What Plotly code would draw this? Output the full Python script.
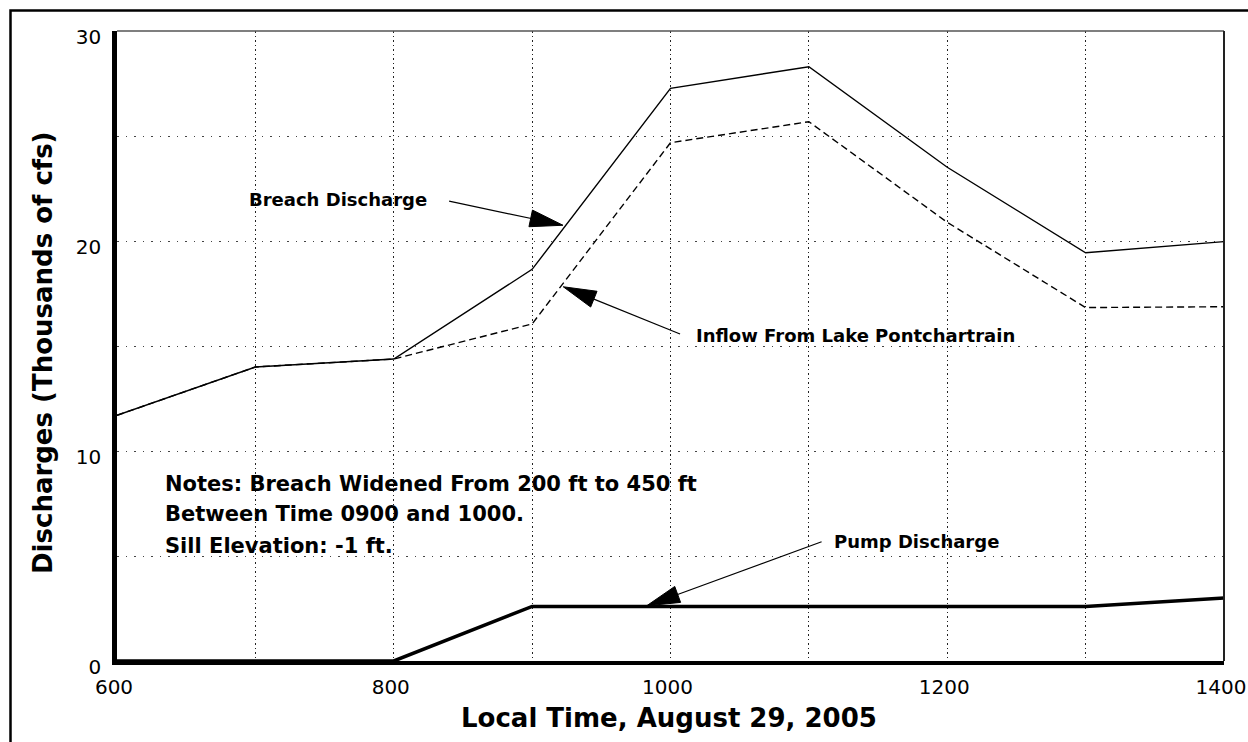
import math
import plotly.graph_objects as go

# Hourly timeline (local time, 24h clock as numbers)
time = [600, 700, 800, 900, 1000, 1100, 1200, 1300, 1400]
# Discharges in thousands of cfs
breach_discharge = [11.7, 14.0, 14.38, 18.65, 27.27, 28.3, 23.51, 19.44, 19.97]
lake_inflow = [11.7, 14.0, 14.38, 16.05, 24.68, 25.68, 20.89, 16.83, 16.87]
pump_discharge = [0.0, 0.0, 0.0, 2.6, 2.6, 2.6, 2.6, 2.6, 3.0]

x_ticks = [600, 800, 1000, 1200, 1400]
y_ticks = [0, 10, 20, 30]

W, H = 1248, 742
ML, MR, MT, MB = 117, 24, 31, 81
X0, X1 = 600, 1400
Y0, Y1 = 0, 30
PX_X = (W - ML - MR) / (X1 - X0)
PX_Y = (H - MT - MB) / (Y1 - Y0)

FONT = "DejaVu Sans"


def px_to_paper(px, py):
    return (px - ML) / (W - ML - MR), (H - MB - py) / (H - MT - MB)


fig = go.Figure()

fig.add_trace(go.Scatter(x=time, y=lake_inflow, mode="lines",
                         line=dict(color="black", width=1.4, dash="7px,4px"),
                         name="Inflow From Lake Pontchartrain", hoverinfo="skip"))
fig.add_trace(go.Scatter(x=time, y=breach_discharge, mode="lines",
                         line=dict(color="black", width=1.4),
                         name="Breach Discharge", hoverinfo="skip"))
fig.add_trace(go.Scatter(x=time, y=pump_discharge, mode="lines",
                         line=dict(color="black", width=3.5),
                         name="Pump Discharge", hoverinfo="skip"))

shapes = []
annotations = []


def pointer(tip, tail, head_len=33, head_w=17):
    """Thin shaft from tail to tip with a filled triangular head."""
    tx, ty = tip
    ux = (tail[0] - tx) * PX_X
    uy = (tail[1] - ty) * PX_Y
    n = math.hypot(ux, uy)
    ux, uy = ux / n, uy / n
    bx, by = ux * head_len, uy * head_len
    qx, qy = -uy * head_w / 2, ux * head_w / 2
    pts = [(0, 0), (bx + qx, by + qy), (bx - qx, by - qy)]
    path = "M " + " L ".join(f"{tx + a / PX_X},{ty + b / PX_Y}" for a, b in pts) + " Z"
    shapes.append(dict(type="path", xref="x", yref="y", path=path,
                       fillcolor="black", line=dict(color="black", width=1)))
    shapes.append(dict(type="line", xref="x", yref="y",
                       x0=tx + bx * 0.8 / PX_X, y0=ty + by * 0.8 / PX_Y,
                       x1=tail[0], y1=tail[1],
                       line=dict(color="black", width=1.2)))


pointer((922.3, 20.75), (840.0, 21.9))
pointer((922.5, 17.82), (1006.9, 15.57))
pointer((982.8, 2.63), (1109.2, 5.68))


def label(x, y, text, size=18):
    annotations.append(dict(x=x, y=y, xref="x", yref="y", text=text, showarrow=False,
                            xanchor="left", yanchor="middle",
                            font=dict(family=FONT, size=size, color="black", weight="bold")))


label(694.3, 22.0, "Breach Discharge")
label(1017.0, 15.48, "Inflow From Lake Pontchartrain")
label(1116.7, 5.69, "Pump Discharge")
label(633.2, 8.45, "Notes: Breach Widened From 200 ft to 450 ft", 21)
label(633.2, 6.98, "Between Time 0900 and 1000.", 21)
label(633.2, 5.50, "Sill Elevation: -1 ft.", 21)

# Axis titles
tx, ty = px_to_paper(669, 718)
annotations.append(dict(x=tx, y=ty, xref="paper", yref="paper",
                        text="Local Time, August 29, 2005", showarrow=False,
                        xanchor="center", yanchor="middle",
                        font=dict(family=FONT, size=26, color="black", weight="bold")))
tx, ty = px_to_paper(43, 353)
annotations.append(dict(x=tx, y=ty, xref="paper", yref="paper",
                        text="Discharges (Thousands of cfs)", showarrow=False, textangle=-90,
                        xanchor="center", yanchor="middle",
                        font=dict(family=FONT, size=26, color="black", weight="bold")))

# Plot frame: thin top and right edges
shapes.append(dict(type="line", xref="paper", yref="paper", x0=0, y0=1, x1=1, y1=1,
                   line=dict(color="#555", width=1.5)))
shapes.append(dict(type="line", xref="paper", yref="paper", x0=1, y0=0, x1=1, y1=1,
                   line=dict(color="#222", width=2)))

# Outer page border
bx0, by0 = px_to_paper(10.5, 10.5)
bx1, by1 = px_to_paper(1262, 760)
shapes.append(dict(type="rect", xref="paper", yref="paper", x0=bx0, y0=by1, x1=bx1, y1=by0,
                   line=dict(color="black", width=2.5), fillcolor="rgba(0,0,0,0)"))

fig.update_layout(
    width=W, height=H,
    margin=dict(l=ML, r=MR, t=MT, b=MB),
    paper_bgcolor="white", plot_bgcolor="white",
    showlegend=False,
    shapes=shapes, annotations=annotations,
    xaxis=dict(range=[X0, X1], tickvals=x_ticks, ticktext=[str(v) for v in x_ticks],
               automargin=False,
               showgrid=True, gridcolor="#222", gridwidth=1.3, griddash="1.5px,3px",
               minor=dict(tickvals=[700, 900, 1100, 1300], showgrid=True, gridcolor="#222",
                          gridwidth=1.3, griddash="1.5px,3px"),
               showline=True, linecolor="black", linewidth=3.5, zeroline=False,
               ticks="", ticklabelstandoff=5, ticklabelshift=-3, ticklabeloverflow="allow",
               tickfont=dict(family=FONT, size=20, color="black")),
    yaxis=dict(range=[Y0, Y1], tickvals=y_ticks, ticktext=[str(v) for v in y_ticks],
               automargin=False,
               showgrid=True, gridcolor="#444", gridwidth=1.3, griddash="1.5px,7px",
               minor=dict(tickvals=[5, 15, 25], showgrid=True, gridcolor="#444",
                          gridwidth=1.3, griddash="1.5px,7px"),
               showline=True, linecolor="black", linewidth=4.5, zeroline=False,
               ticks="", ticklabelstandoff=7, ticklabelshift=6, ticklabeloverflow="allow",
               tickfont=dict(family=FONT, size=20, color="black")),
)

fig.write_html("out.html")
